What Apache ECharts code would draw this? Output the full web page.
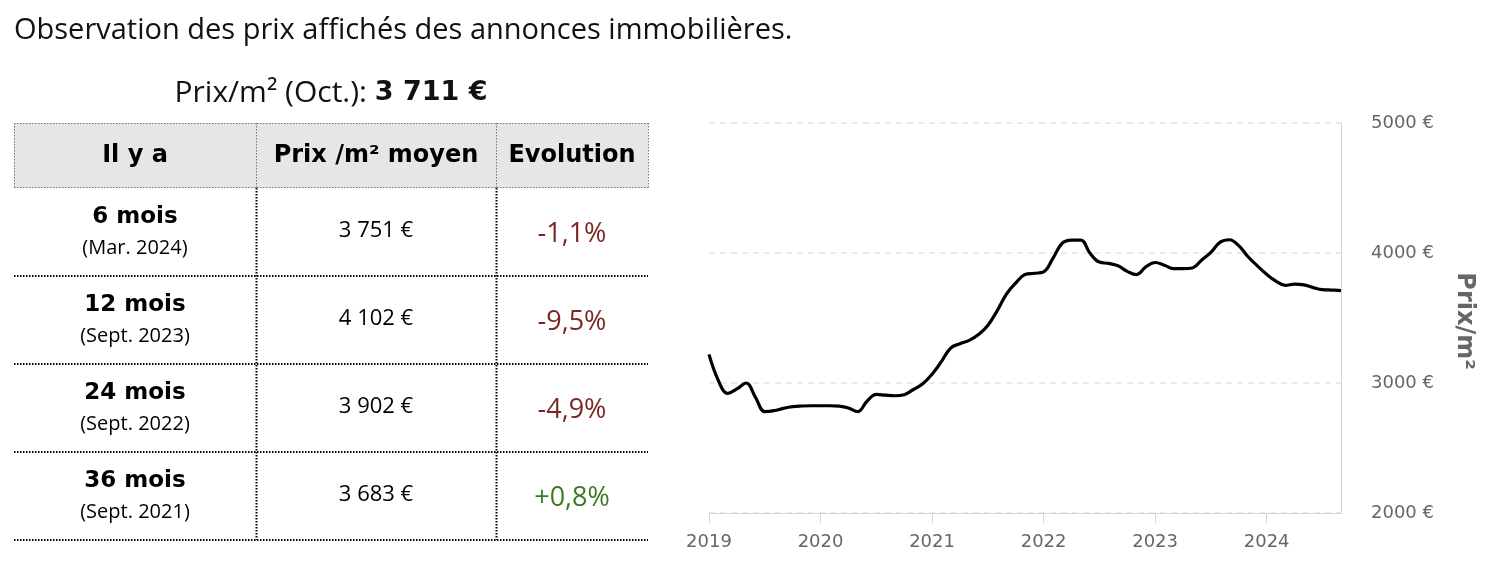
<!DOCTYPE html>
<html><head><meta charset="utf-8">
<script src="https://cdn.jsdelivr.net/npm/echarts@6/dist/echarts.min.js"></script>
<style>html,body{margin:0;padding:0;background:#fff}#c{width:1486px;height:568px}</style>
</head><body><div id="c"></div>
<script>
// ---------- data ----------
const titleText = 'Observation des prix affichés des annonces immobilières.';
const currentLabel = 'Prix/m² (Oct.): ';
const currentPrice = '3 711 €';
const headers = ['Il y a', 'Prix /m² moyen', 'Evolution'];
const periods = ['6 mois', '12 mois', '24 mois', '36 mois'];
const periodDates = ['(Mar. 2024)', '(Sept. 2023)', '(Sept. 2022)', '(Sept. 2021)'];
const avgPrices = ['3 751 €', '4 102 €', '3 902 €', '3 683 €'];
const evolutions = ['-1,1%', '-9,5%', '-4,9%', '+0,8%'];
const yAxisName = 'Prix/m²';
const months = [
  '2019-01','2019-02','2019-03','2019-04','2019-05','2019-06','2019-07','2019-08','2019-09','2019-10','2019-11','2019-12',
  '2020-01','2020-02','2020-03','2020-04','2020-05','2020-06','2020-07','2020-08','2020-09','2020-10','2020-11','2020-12',
  '2021-01','2021-02','2021-03','2021-04','2021-05','2021-06','2021-07','2021-08','2021-09','2021-10','2021-11','2021-12',
  '2022-01','2022-02','2022-03','2022-04','2022-05','2022-06','2022-07','2022-08','2022-09','2022-10','2022-11','2022-12',
  '2023-01','2023-02','2023-03','2023-04','2023-05','2023-06','2023-07','2023-08','2023-09','2023-10','2023-11','2023-12',
  '2024-01','2024-02','2024-03','2024-04','2024-05','2024-06','2024-07','2024-08','2024-09'
];
const prices = [
  3220, 3020, 2920, 2955, 3000, 2890, 2780, 2787, 2805, 2818, 2823, 2825,
  2825, 2825, 2822, 2808, 2780, 2860, 2912, 2906, 2902, 2910, 2950, 2995,
  3068, 3164, 3269, 3302, 3328, 3373, 3443, 3555, 3683, 3769, 3834, 3844,
  3855, 3958, 4075, 4099, 4099, 3998, 3930, 3920, 3902, 3859, 3834, 3893,
  3927, 3906, 3880, 3880, 3885, 3945, 4005, 4084, 4102, 4057, 3971, 3901,
  3836, 3784, 3751, 3760, 3755, 3734, 3718, 3715, 3711
];
const yMin = 2000, yMax = 5000, yStep = 1000;

// ---------- layout ----------
const FONT = '"Open Sans", "Noto Sans", sans-serif';
const BOLD = 'bold {s}px "DejaVu Sans", sans-serif';
const bold = s => BOLD.replace('{s}', s);
const cols = [14, 256, 496, 648];
const headTop = 123, headBot = 188, rowH = 88;
const evoColor = v => v.trim().startsWith('-') ? '#7c2626' : '#3b7a23';

const g = [];
g.push({type: 'text', x: 14, y: 31, style: {text: titleText, font: '29px ' + FONT, fill: '#111', align: 'left', verticalAlign: 'middle'}});
g.push({type: 'text', x: (cols[0] + cols[3]) / 2, y: 93, style: {
  text: '{a|' + currentLabel + '}{b|' + currentPrice + '}', align: 'center', verticalAlign: 'middle',
  rich: {a: {font: '30px ' + FONT, fill: '#111'}, b: {font: bold(27), fill: '#111'}}
}});
// header background
g.push({type: 'rect', shape: {x: cols[0], y: headTop, width: cols[3] - cols[0], height: headBot - headTop}, style: {fill: '#e6e6e6'}});
const dot = (x1, y1, x2, y2, color, w) => ({type: 'line', shape: {x1, y1, x2, y2}, style: {stroke: color, lineWidth: w, lineDash: [1.5, 1.5]}, z: 10});
// header dotted frame
g.push(dot(cols[0], headTop + 0.5, cols[3], headTop + 0.5, '#777', 1));
g.push(dot(cols[0], headBot - 0.5, cols[3], headBot - 0.5, '#777', 1));
cols.forEach(x => g.push(dot(x + 0.5, headTop, x + 0.5, headBot, '#777', 1)));
headers.forEach((h, i) => {
  g.push({type: 'text', x: (cols[i] + cols[i + 1]) / 2, y: (headTop + headBot) / 2, style: {text: h, font: bold(24), fill: '#000', align: 'center', verticalAlign: 'middle'}, z: 11});
});
const nRows = periods.length;
const bodyBot = headBot + rowH * nRows;
[cols[1], cols[2]].forEach(x => g.push(dot(x + 0.5, headBot, x + 0.5, bodyBot, '#000', 2)));
periods.forEach((p, r) => {
  const top = headBot + rowH * r;
  g.push(dot(cols[0], top + rowH, cols[3], top + rowH, '#000', 2));
  const c0 = (cols[0] + cols[1]) / 2, c1 = (cols[1] + cols[2]) / 2, c2 = (cols[2] + cols[3]) / 2;
  g.push({type: 'text', x: c0, y: top + 29, style: {text: p, font: bold(23), fill: '#000', align: 'center', verticalAlign: 'middle'}});
  g.push({type: 'text', x: c0, y: top + 60, style: {text: periodDates[r], font: '20px ' + FONT, fill: '#000', align: 'center', verticalAlign: 'middle'}});
  g.push({type: 'text', x: c1, y: top + 43, style: {text: avgPrices[r], font: '22px ' + FONT, fill: '#000', align: 'center', verticalAlign: 'middle'}});
  g.push({type: 'text', x: c2, y: top + 46, style: {text: evolutions[r], font: '27px ' + FONT, fill: evoColor(evolutions[r]), align: 'center', verticalAlign: 'middle'}});
});
// y axis name
g.push({type: 'text', x: 1464, y: 321, rotation: -Math.PI / 2, style: {text: yAxisName, font: bold(24), fill: '#666', align: 'center', verticalAlign: 'middle'}});

const isJan = (i, v) => String(v).endsWith('-01');
const chart = echarts.init(document.getElementById('c'));
chart.setOption({
  animation: false,
  grid: {left: 709, right: 145, top: 123, bottom: 55},
  xAxis: {
    type: 'category', data: months, boundaryGap: false,
    axisLine: {show: true, lineStyle: {color: '#ccd6eb', width: 1}},
    axisTick: {show: true, length: 10, interval: isJan, lineStyle: {color: '#ccd6eb'}},
    axisLabel: {interval: isJan, formatter: v => v.slice(0, 4), color: '#666', fontFamily: '"DejaVu Sans", sans-serif', fontSize: 18, margin: 20},
    splitLine: {show: false}
  },
  yAxis: {
    type: 'value', position: 'right', min: yMin, max: yMax, interval: yStep,
    axisLine: {show: true, lineStyle: {color: '#ccd6eb', width: 1}},
    axisTick: {show: false},
    axisLabel: {formatter: v => v + ' €', color: '#666', fontFamily: '"DejaVu Sans", sans-serif', fontSize: 18, margin: 30, padding: [11, 0, 0, 0]},
    splitLine: {show: true, lineStyle: {color: '#e3e3e3', width: 1.5, type: [6, 5]}}
  },
  series: [{
    type: 'line', data: prices, smooth: 0.4, symbol: 'none', showSymbol: false,
    lineStyle: {color: '#000', width: 3.2}
  }],
  graphic: g
});
</script></body></html>
